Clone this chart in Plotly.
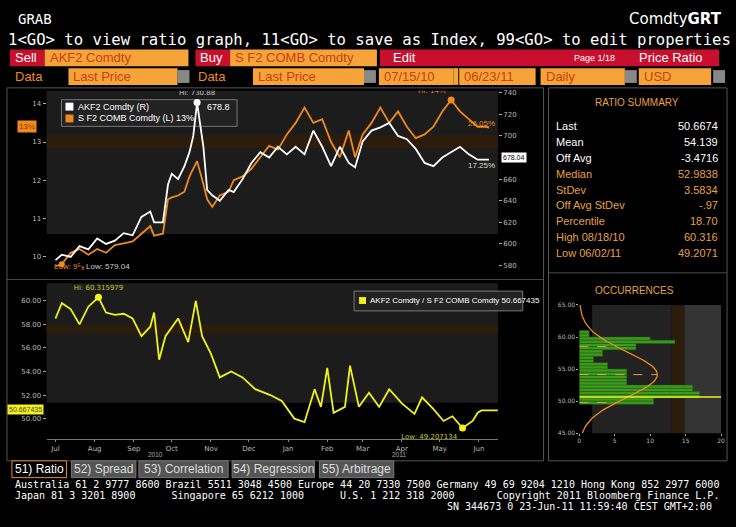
import plotly.graph_objects as go
import math

W, H = 736, 527
def px(x): return x / W
def py(y): return 1 - y / H

# ---------------- data ----------------
ak_dates = ["2010-07-15","2010-07-20","2010-07-27","2010-08-03","2010-08-10","2010-08-17","2010-08-24","2010-08-31",
            "2010-09-07","2010-09-14","2010-09-21","2010-09-28","2010-10-01","2010-10-08","2010-10-12","2010-10-15",
            "2010-10-20","2010-10-25","2010-10-29","2010-11-01","2010-11-04","2010-11-09","2010-11-12","2010-11-16",
            "2010-11-22","2010-11-29","2010-12-03","2010-12-10","2010-12-17","2010-12-24","2010-12-31","2011-01-07",
            "2011-01-14","2011-01-21","2011-01-28","2011-02-04","2011-02-11","2011-02-18","2011-02-25","2011-03-04",
            "2011-03-09","2011-03-15","2011-03-22","2011-03-29","2011-04-05","2011-04-12","2011-04-19","2011-04-26",
            "2011-05-03","2011-05-10","2011-05-17","2011-05-24","2011-05-31","2011-06-07","2011-06-14","2011-06-20","2011-06-23"]
akf2 = [585,590,588,598,595,605,600,603,610,608,625,630,620,620,655,665,660,672,685,700,730.88,690,650,645,
        640,650,648,660,675,685,680,690,683,690,683,705,690,672,690,675,671,695,705,708,712,700,697,688,675,672,
        680,685,690,683,678,678,678]
sf2 = [9.75,9.8,10.1,10.2,10.05,10.2,10.1,10.3,10.35,10.4,10.6,10.8,10.55,10.6,11.5,11.55,11.6,11.7,12.1,12.3,12.5,
       11.9,11.5,11.3,11.6,11.7,12.0,12.1,12.3,12.6,12.9,12.8,13.2,13.5,13.9,13.5,13.6,13.0,12.6,13.3,12.6,13.2,
       13.5,13.9,13.5,13.8,13.4,13.1,13.2,13.4,13.8,14.1,13.8,13.6,13.4,13.4,13.38]

ratio_dates = ["2010-07-15","2010-07-20","2010-07-27","2010-08-03","2010-08-10","2010-08-18","2010-08-24","2010-08-31",
               "2010-09-07","2010-09-14","2010-09-21","2010-09-28","2010-10-01","2010-10-05","2010-10-10","2010-10-15",
               "2010-10-20","2010-10-28","2010-11-03","2010-11-08","2010-11-15","2010-11-22","2010-12-01","2010-12-10",
               "2010-12-20","2011-01-01","2011-01-10","2011-01-20","2011-01-28","2011-02-05","2011-02-10","2011-02-15",
               "2011-02-20","2011-03-01","2011-03-05","2011-03-12","2011-03-20","2011-03-28","2011-04-05","2011-04-15",
               "2011-04-25","2011-05-01","2011-05-10","2011-05-18","2011-05-25","2011-06-02","2011-06-10","2011-06-14",
               "2011-06-17","2011-06-30"]
ratio = [58.5,59.8,59.3,58.0,59.5,60.3,59.0,58.8,58.9,58.5,57.0,57.8,59.0,55.0,57.0,57.8,58.5,56.5,60.0,57.0,
         55.5,53.5,54.0,53.5,52.5,52.0,51.5,50.0,49.7,52.5,51.0,54.3,50.5,51.0,54.5,51.0,52.2,51.0,52.5,51.3,
         50.4,51.8,50.8,49.8,50.2,49.2,49.8,50.5,50.7,50.7]

hist_levels = [60.75,60.25,59.75,59.25,58.75,58.25,57.75,57.25,56.75,56.25,55.75,55.25,54.75,54.25,
               53.75,53.25,52.75,52.25,51.75,51.25,50.75,50.25,49.75]
hist_counts = [1.4,1.4,10,13.5,8,8,3.3,3.3,2,2,4,4,6.7,6.7,6.7,6.7,6.7,16,16,17,17,10.5,10.5]

stats_labels = ["Last","Mean","Off Avg","Median","StDev","Off Avg StDev","Percentile","High 08/18/10","Low 06/02/11"]
stats_values = ["50.6674","54.139","-3.4716","52.9838","3.5834","-.97","18.70","60.316","49.2071"]
MEAN, SD = 54.139, 3.5834

month_ticks = ["2010-07-15","2010-08-15","2010-09-15","2010-10-15","2010-11-15","2010-12-15",
               "2011-01-15","2011-02-15","2011-03-15","2011-04-15","2011-05-15","2011-06-15"]
month_labels = ["Jul","Aug","Sep","Oct","Nov","Dec","Jan","Feb","Mar","Apr","May","Jun"]

ORANGE = "#f08a1e"
FIELD = "#f6a33a"
RED = "#c8102e"
AMBER = "#e8a040"
YEL = "#f2f21a"
SANS = "Liberation Sans"

fig = go.Figure()
fig.add_trace(go.Scatter(x=ak_dates, y=sf2, mode="lines", line=dict(color=ORANGE, width=1.8), xaxis="x", yaxis="y"))
fig.add_trace(go.Scatter(x=ak_dates, y=akf2, mode="lines", line=dict(color="white", width=1.8), xaxis="x", yaxis="y2"))
fig.add_trace(go.Scatter(x=["2010-11-04"], y=[730.88], mode="markers+text", marker=dict(color="white", size=7),
                         text=["Hi: 730.88"], textposition="top center", textfont=dict(color="#cccccc", size=7),
                         xaxis="x", yaxis="y2"))
fig.add_trace(go.Scatter(x=["2011-05-24"], y=[14.1], mode="markers+text", marker=dict(color=ORANGE, size=7),
                         text=["Hi: 14¼"], textposition="top left", textfont=dict(color=ORANGE, size=7),
                         xaxis="x", yaxis="y"))
fig.add_trace(go.Scatter(x=["2010-07-20"], y=[9.8], mode="markers", marker=dict(color=ORANGE, size=6),
                         xaxis="x", yaxis="y"))
fig.add_trace(go.Scatter(x=ratio_dates, y=ratio, mode="lines", line=dict(color=YEL, width=1.8), xaxis="x2", yaxis="y3"))
fig.add_trace(go.Scatter(x=["2010-08-18"], y=[60.3], mode="markers+text", marker=dict(color=YEL, size=7),
                         text=["Hi: 60.315979"], textposition="top center", textfont=dict(color="#c8c830", size=7),
                         xaxis="x2", yaxis="y3"))
fig.add_trace(go.Scatter(x=["2011-06-02"], y=[49.2], mode="markers+text", marker=dict(color=YEL, size=7),
                         text=["Low: 49.207134"], textposition="bottom left", textfont=dict(color="#c8c830", size=7),
                         xaxis="x2", yaxis="y3"))
fig.add_trace(go.Bar(y=hist_levels, x=hist_counts, orientation="h", width=0.5,
                     marker=dict(color="#3d9a1e", line=dict(color="#1f5a10", width=0.5)), xaxis="x3", yaxis="y4"))
cy = [45 + 0.25 * i for i in range(81)]
cx = [11 * math.exp(-0.5 * ((v - MEAN) / SD) ** 2) for v in cy]
fig.add_trace(go.Scatter(x=cx, y=cy, mode="lines", line=dict(color=ORANGE, width=1.3), xaxis="x3", yaxis="y4"))
fig.add_trace(go.Scatter(x=[0, 20], y=[50.667, 50.667], mode="lines", line=dict(color=YEL, width=1.5),
                         xaxis="x3", yaxis="y4"))
for lv in [58.5, MEAN, 49.8]:
    fig.add_trace(go.Scatter(x=[0, 11 * math.exp(-0.5 * ((lv - MEAN) / SD) ** 2)], y=[lv, lv], mode="lines",
                             line=dict(color=AMBER, width=1, dash="dash"), xaxis="x3", yaxis="y4"))

axfont = dict(color="#bbbbbb", size=7, family="DejaVu Sans")
common_x = dict(type="date", range=["2010-07-08", "2011-06-30"], showgrid=False, zeroline=False)
fig.update_layout(
    width=W, height=H, margin=dict(l=0, r=0, t=0, b=0), paper_bgcolor="black", plot_bgcolor="rgba(0,0,0,0)",
    showlegend=False, font=dict(family="DejaVu Sans", color="white"),
    xaxis=dict(domain=[px(45), px(500)], anchor="y", showticklabels=False, **common_x),
    yaxis=dict(domain=[py(275), py(88)], range=[9.51, 14.34], tickvals=[10, 11, 12, 13, 14], ticks="outside",
               ticklen=3, tickcolor="#aaa", tickfont=axfont, showgrid=False, zeroline=False),
    yaxis2=dict(overlaying="y", side="right", anchor="x", range=[570.9, 741.8], tickvals=[580, 600, 620, 640, 660, 700, 720, 740],
                ticks="outside", ticklen=3, tickcolor="#aaa", tickfont=axfont, showgrid=False, zeroline=False),
    xaxis2=dict(domain=[px(45), px(500)], anchor="y3", tickvals=month_ticks, ticktext=month_labels,
                tickfont=axfont, ticks="outside", ticklen=2, tickcolor="#888", showline=True, linecolor="#777", **common_x),
    yaxis3=dict(domain=[py(441), py(283)], range=[48.26, 61.49], tickvals=[50, 52, 54, 56, 58, 60],
                tickformat=".2f", ticks="outside", ticklen=3, tickcolor="#aaa", tickfont=axfont,
                showgrid=False, zeroline=False, anchor="x2"),
    xaxis3=dict(domain=[px(582), px(725)], anchor="y4", range=[0, 20], tickvals=[0, 5, 10, 15, 20],
                tickfont=dict(color="#bbb", size=6), showgrid=False, zeroline=False, ticks="outside",
                ticklen=2, tickcolor="#aaa"),
    yaxis4=dict(domain=[py(435), py(305)], anchor="x3", range=[45, 65], tickvals=[45, 50, 55, 60, 65],
                tickformat=".2f", tickfont=dict(color="#bbb", size=6), showgrid=False, zeroline=False,
                ticks="outside", ticklen=2, tickcolor="#aaa"),
)

shapes, ann = [], []
def rect(x0, y0, x1, y1, fill, line=None, layer="below"):
    shapes.append(dict(type="rect", xref="paper", yref="paper", x0=px(x0), x1=px(x1), y0=py(y1), y1=py(y0),
                       fillcolor=fill, line=dict(color=line or fill, width=1 if line else 0), layer=layer))
def text(x, y, s, color="white", size=11, anchor="left", family=SANS, bg=None):
    ann.append(dict(x=px(x), y=py(y), xref="paper", yref="paper", text=s, showarrow=False, xanchor=anchor,
                    yanchor="middle", font=dict(color=color, size=size, family=family),
                    bgcolor=bg, borderpad=1))

rect(45, 88, 500, 233, "#1c1c1c"); rect(45, 133, 500, 146, "#2c1c0c")
rect(45, 283, 500, 404, "#1c1c1c"); rect(45, 325, 500, 334, "#2c1c0c")
rect(5, 85, 546, 463, "rgba(0,0,0,0)", "#555"); rect(5, 279, 546, 279.5, "#888")
rect(551, 85, 731, 463, "rgba(0,0,0,0)", "#555"); rect(551, 272, 731, 273, "#666")
rect(595, 305, 675, 435, "#222"); rect(675, 305, 688, 435, "#2c1c0c"); rect(688, 305, 725, 435, "#333")

mono = "DejaVu Sans Mono"
text(14, 15, "GRAB", size=14, family=mono)
text(728, 15, "Comdty<b>GRT</b>", size=15, anchor="right", family="DejaVu Sans")
text(4, 36, "1&lt;GO&gt; to view ratio graph, 11&lt;GO&gt; to save as Index, 99&lt;GO&gt; to edit properties",
     size=15.6, family=mono)
rect(8, 46, 43, 63, RED); rect(43, 46, 188, 63, FIELD)
rect(195, 46, 230, 63, RED); rect(230, 46, 378, 63, FIELD)
rect(381, 46, 723, 63, RED)
text(11, 54.5, "Sell", size=13); text(46, 54.5, "AKF2 Comdty", color="#c84010", size=13)
text(198, 54.5, "Buy", size=13); text(233, 54.5, "S F2 COMB Comdty", color="#c84010", size=13)
text(392, 54.5, "Edit", size=13); text(575, 55, "Page 1/18", size=9); text(640, 54.5, "Price Ratio", size=13)
for (a, b, s) in [(8, 65, "Data"), (67, 177, "Last Price"), (193, 250, "Data"), (253, 365, "Last Price"),
                  (380, 455, "07/15/10"), (461, 538, "06/23/11"), (543, 628, "Daily"), (642, 715, "USD")]:
    rect(a, 65, b, 82, FIELD if "Data" not in s else "black")
    col = "#c84010" if "Data" not in s else ORANGE
    text(a + 3, 73.5, s, color=col, size=13)
rect(455, 65, 460, 82, FIELD)
for a in [177, 365, 628, 717]:
    rect(a, 67, a + 12, 80, "#888")

rect(60, 97, 237, 124, "#222", "#777")
rect(64, 100, 72, 108, "white"); rect(64, 112, 72, 120, ORANGE)
text(75, 104, "AKF2 Comdty (R)", size=9); text(205, 104, "678.8", size=9)
text(75, 116, "S F2 COMB Comdty (L) 13%", size=9)
text(50, 266, "Low: 9⁵₈", color=ORANGE, size=8); text(83, 266, "Low: 579.04", color="#ccc", size=8)
text(499, 121, "26.05%", color=ORANGE, size=8, anchor="right"); text(499, 164, "17.25%", color="#ddd", size=8, anchor="right")
text(25, 124, "13¾", color="#8a3000", size=8, anchor="center", bg=ORANGE)
text(516, 156, "678.04", color="black", size=7, anchor="center", bg="white")
rect(355, 291, 525, 311, "#222", "#777"); rect(360, 297, 367, 304, YEL)
text(369, 300.5, "AKF2 Comdty / S F2 COMB Comdty 50.667435", size=8)
text(24, 411, "50.667435", color="#444", size=7, anchor="center", bg=YEL)
text(155, 457, "2010", color="#aaa", size=6.5, anchor="center")
text(400, 457, "2011", color="#aaa", size=6.5, anchor="center")

text(640, 100, "RATIO SUMMARY", color=AMBER, size=10, anchor="center")
for i, (l, v) in enumerate(zip(stats_labels, stats_values)):
    c = "white" if i < 3 else AMBER
    yy = 124 + i * 16
    text(557, yy, l, color=c, size=11)
    text(724, yy, v, color=c, size=11, anchor="right")
text(638, 290, "OCCURRENCES", color=AMBER, size=10, anchor="center")

for (a, b, s, act) in [(10, 65, "51) Ratio", True), (70, 135, "52) Spread", False), (138, 228, "53) Correlation", False),
                       (232, 315, "54) Regression", False), (320, 395, "55) Arbitrage", False)]:
    rect(a, 463, b, 480, "black" if act else "#555", ORANGE if act else "#777")
    text((a + b) / 2, 471.5, s, color="white" if act else "#ddd", size=12, anchor="center")
text(11, 487, "Australia 61 2 9777 8600 Brazil 5511 3048 4500 Europe 44 20 7330 7500 Germany 49 69 9204 1210 Hong Kong 852 2977 6000",
     size=10, family=mono)
text(11, 498, "Japan 81 3 3201 8900      Singapore 65 6212 1000      U.S. 1 212 318 2000       Copyright 2011 Bloomberg Finance L.P.",
     size=10, family=mono)
text(718, 509, "SN 344673 0 23-Jun-11 11:59:40 CEST GMT+2:00", size=10, family=mono, anchor="right")

fig.update_layout(shapes=shapes, annotations=ann)
fig.write_html("out.html", config={"displayModeBar": False},
               post_script="document.body.style.margin='0';document.body.style.background='black';")
